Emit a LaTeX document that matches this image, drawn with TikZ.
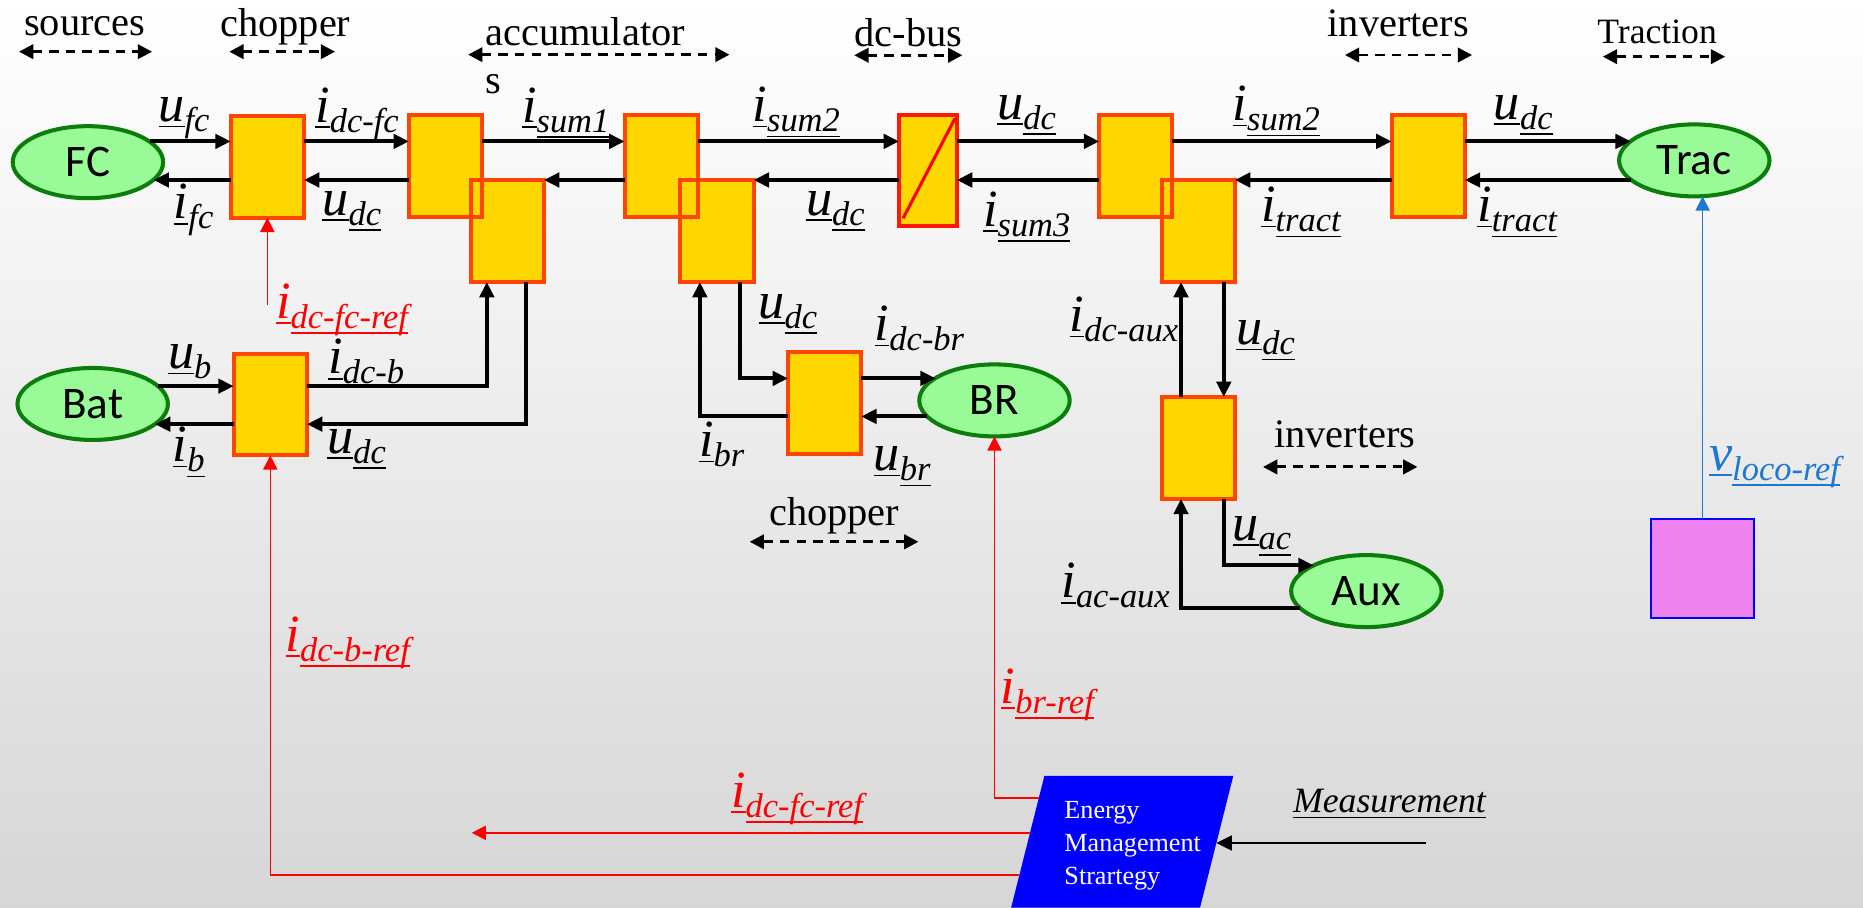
\documentclass[tikz,border=0pt]{standalone}
\usepackage{fontspec}
\setmainfont{Liberation Serif}
\newfontfamily\carl{Carlito}
\usetikzlibrary{arrows.meta,calc,shapes.geometric}

\definecolor{boxfill}{RGB}{255,215,0}
\definecolor{boxline}{RGB}{255,69,0}
\definecolor{busline}{RGB}{255,25,0}
\definecolor{ellfill}{RGB}{152,251,152}
\definecolor{ellline}{RGB}{10,125,10}
\definecolor{refred}{RGB}{255,0,0}
\definecolor{refblue}{RGB}{30,120,210}
\definecolor{speedfill}{RGB}{238,130,238}
\definecolor{emsblue}{RGB}{0,0,255}

% underlined box (rule at a fixed offset below the baseline)
\newcommand{\ulbox}[1]{\setbox0=\hbox{#1}\rlap{\raisebox{-2.4pt}{\rule{\wd0}{0.7pt}}}\box0}
% signal names: underlined letter, plain or underlined subscript
\newcommand{\sgn}[2]{{\fontsize{22}{22}\selectfont\itshape\ulbox{#1}}{\fontsize{14.5}{14.5}\selectfont\itshape\raisebox{-4.2pt}{#2}}}
\newcommand{\sgu}[2]{{\fontsize{22}{22}\selectfont\itshape\ulbox{#1}}{\fontsize{14.5}{14.5}\selectfont\itshape\raisebox{-4.2pt}{\ulbox{#2}}}}

\tikzset{
  conv/.style={draw=boxline, fill=boxfill, line width=1.7pt, minimum width=30.8pt, minimum height=42.8pt, inner sep=0pt, outer sep=0pt},
  busbox/.style={draw=busline, fill=boxfill, line width=1.7pt, minimum width=24.3pt, minimum height=46.8pt, inner sep=0pt, outer sep=0pt},
  load/.style={ellipse, draw=ellline, fill=ellfill, line width=1.7pt, minimum width=63.3pt, minimum height=30.3pt, inner sep=1pt, outer sep=0pt, font=\carl\fontsize{19}{19}\selectfont},
  flow/.style={line width=1.7pt, -{Triangle[length=6.5pt,width=6pt]}},
  refline/.style={draw=refred, line width=0.6pt, -{Triangle[length=6pt,width=6pt]}},
  speedline/.style={draw=refblue, line width=0.6pt, -{Triangle[length=6pt,width=6pt]}},
  measline/.style={line width=0.7pt, -{Triangle[length=6.5pt,width=6.3pt]}},
  span/.style={line width=1.25pt, dash pattern=on 4pt off 3pt, {Triangle[length=6pt,width=6pt]}-{Triangle[length=6pt,width=6pt]}},
  sig/.style={inner sep=0pt, anchor=west},
  head/.style={inner sep=0pt, anchor=base west, font=\fontsize{17}{17}\selectfont},
}

\begin{document}
\begin{tikzpicture}[x=0.5pt,y=-0.5pt]
\useasboundingbox (0,0) rectangle (1568,764);
\shade[top color=white, bottom color=black!16] (0,0) rectangle (1568,764);

% ---- section headings with span arrows
\node[head] (hs) at (20,29.5) {sources};
\node[head] (hc) at (185,31) {chopper};
\node[head] (ha) at (408,38) {accumulator};
\node[head] (has) at (408,78.5) {s};
\node[head] (hd) at (719,39) {dc-bus};
\node[head] (hi) at (1117,31) {inverters};
\node[head,font=\fontsize{15}{15}\selectfont] (ht) at (1344,36.5) {Traction};
\node[head] (hc2) at (647,442) {chopper};
\node[head] (hi2) at (1072,377) {inverters};

\coordinate (s1a) at (16,43.5);   \coordinate (s1b) at (128,43.5);
\coordinate (s2a) at (193,43.5);  \coordinate (s2b) at (282,43.5);
\coordinate (s3a) at (394,46);    \coordinate (s3b) at (614,46);
\coordinate (s4a) at (719,46.5);  \coordinate (s4b) at (810,46.5);
\coordinate (s5a) at (1132,46.3); \coordinate (s5b) at (1239,46.3);
\coordinate (s6a) at (1349,47.7); \coordinate (s6b) at (1452,47.7);
\coordinate (s7a) at (631,456);   \coordinate (s7b) at (773,456);
\coordinate (s8a) at (1063,393);  \coordinate (s8b) at (1193,393);
\foreach \s in {1,...,8} \draw[span] (s\s a) -- (s\s b);

% ---- sources and loads
\node[load] (FC) at (74,136.5) {FC};
\node[load] (Bat) at (78,340) {Bat};
\node[load] (BR) at (837,337) {BR};
\node[load] (Aux) at (1150,497.5) {Aux};
\node[load] (Trac) at (1426,135) {Trac};

% ---- converters
\node[conv] (C1) at (225,140.5) {};
\node[conv] (A1) at (375,139.5) {};
\node[conv] (A2) at (427,194.5) {};
\draw[boxline, line width=1.7pt] (A1.south west) rectangle (A1.north east);
\node[conv] (A3) at (556.5,139.5) {};
\node[conv] (A4) at (603.5,194.5) {};
\draw[boxline, line width=1.7pt] (A3.south west) rectangle (A3.north east);
\node[busbox] (DC) at (781,143.5) {};
\draw[refred, line width=1.3pt] ($(DC.south west)!0.07!(DC.north east)$) -- ($(DC.south west)!0.97!(DC.north east)$);
\node[conv] (B1) at (956,139.5) {};
\node[conv] (B2) at (1008.5,194.5) {};
\draw[boxline, line width=1.7pt] (B1.south west) rectangle (B1.north east);
\node[conv] (T) at (1202,139.5) {};
\node[conv] (CB) at (227.5,340.5) {};
\node[conv] (CBR) at (694,339) {};
\node[conv] (AI) at (1009,377) {};
\node[draw=emsblue, fill=speedfill, line width=0.9pt, minimum width=43.1pt, minimum height=41.6pt, inner sep=0pt, outer sep=0pt] (speed) at (1433,478.5) {};

% ---- power flow connectors
\coordinate (up) at (0,119);
\coordinate (lo) at (0,151.5);
\coordinate (bup) at (0,325);
\coordinate (blo) at (0,357);
\coordinate (rup) at (0,318.5);
\coordinate (rlo) at (0,350.5);
\coordinate (xl) at (994,0);
\coordinate (xr) at (1030,0);

\draw[flow] (FC.18.7 |- up) -- (C1.west |- up);
\draw[flow] (C1.east |- up) -- (A1.west |- up);
\draw[flow] (A1.east |- up) -- (A3.west |- up);
\draw[flow] (A3.east |- up) -- (DC.west |- up);
\draw[flow] (DC.east |- up) -- (B1.west |- up);
\draw[flow] (B1.east |- up) -- (T.west |- up);
\draw[flow] (T.east |- up) -- (Trac.163.4 |- up);

\draw[flow] (C1.west |- lo) -- (FC.-15.3 |- lo);
\draw[flow] (A1.west |- lo) -- (C1.east |- lo);
\draw[flow] (A3.west |- lo) -- (A2.east |- lo);
\draw[flow] (DC.west |- lo) -- (A4.east |- lo);
\draw[flow] (B1.west |- lo) -- (DC.east |- lo);
\draw[flow] (T.west |- lo) -- (B2.east |- lo);
\draw[flow] (Trac.197.3 |- lo) -- (T.east |- lo);

\draw[flow] (Bat.15.3 |- bup) -- (CB.west |- bup);
\draw[flow] (CB.west |- blo) -- (Bat.-18 |- blo);
\draw[flow] (CB.east |- bup) -| ($(A2.south west)!0.22!(A2.south east)$);
\draw[flow] ($(A2.south west)!0.75!(A2.south east)$) |- (CB.east |- blo);

\draw[flow] ($(A4.south west)!0.817!(A4.south east)$) |- (CBR.west |- rup);
\draw[flow] (CBR.west |- rlo) -| ($(A4.south west)!0.265!(A4.south east)$);
\draw[flow] (CBR.east |- rup) -- (BR.159.7 |- rup);
\draw[flow] (BR.193.4 |- rlo) -- (CBR.east |- rlo);

\draw[flow] (AI.north -| xl) -- (B2.south -| xl);
\draw[flow] (B2.south -| xr) -- (AI.north -| xr);
\draw[flow] (AI.south -| xr) |- (Aux.154.3);
\draw[flow] (Aux.194.6) -| (AI.south -| xl);

% ---- energy management strategy
\coordinate (P1) at (879,653);
\coordinate (P2) at (1038,653);
\coordinate (P3) at (1010,764);
\coordinate (P4) at (851,764);
\fill[emsblue] (P1) -- (P2) -- (P3) -- (P4) -- cycle;
\node[anchor=north west, inner sep=0pt, align=left, text=white, font=\fontsize{11}{14}\selectfont] (ems) at (895.5,674) {Energy\\Management\\Strartegy};

\coordinate (eBR) at ($(P4)!0.833!(P1)$);
\coordinate (eFC) at ($(P4)!0.568!(P1)$);
\coordinate (eB) at ($(P4)!0.248!(P1)$);
\coordinate (eM) at ($(P3)!0.491!(P2)$);
\coordinate (fcx) at (397,0);
\coordinate (mx) at (1200,0);
\coordinate (fctop) at (0,257);

\draw[refline] (eBR) -| (BR.south);
\draw[refline] (eFC) -- (eFC -| fcx);
\draw[refline] (eB) -| (CB.south);
\draw[refline] (C1.south |- fctop) -- (C1.south);
\draw[speedline] (speed.north) -- (speed.north |- Trac.south);
\draw[measline] (eM -| mx) -- (eM);
\node[anchor=base west, inner sep=0pt, font=\fontsize{15}{15}\selectfont\itshape] (meas) at (1088,684) {\ulbox{Measurement}};

% ---- signal labels
\node[sig] (l1) at (133,99.5) {\sgn{u}{fc}};
\node[sig] (l2) at (146,177) {\sgn{i}{fc}};
\node[sig] (l3) at (265,95.5) {\sgn{i}{dc-fc}};
\node[sig] (l4) at (271,177.5) {\sgu{u}{dc}};
\node[sig] (l5) at (439,95) {\sgu{i}{sum1}};
\node[sig] (l6) at (633,94.5) {\sgu{i}{sum2}};
\node[sig] (l7) at (678,177.5) {\sgu{u}{dc}};
\node[sig] (l8) at (839,97) {\sgu{u}{dc}};
\node[sig] (l9) at (827,182.5) {\sgu{i}{sum3}};
\node[sig] (l10) at (1037,93.5) {\sgu{i}{sum2}};
\node[sig] (l11) at (1061,178.5) {\sgu{i}{tract}};
\node[sig] (l12) at (1257,97) {\sgu{u}{dc}};
\node[sig] (l13) at (1243,178.5) {\sgu{i}{tract}};
\node[sig,text=refred] (l14) at (232,260.5) {\sgu{i}{dc-fc-ref}};
\node[sig] (l15) at (141,304.5) {\sgn{u}{b}};
\node[sig] (l16) at (276,304.5) {\sgn{i}{dc-b}};
\node[sig] (l17) at (145,380.5) {\sgu{i}{b}};
\node[sig] (l18) at (275,378) {\sgu{u}{dc}};
\node[sig] (l19) at (638,264.5) {\sgu{u}{dc}};
\node[sig] (l20) at (736,276.5) {\sgn{i}{dc-br}};
\node[sig] (l21) at (588,374) {\sgn{i}{br}};
\node[sig] (l22) at (735,392.5) {\sgu{u}{br}};
\node[sig] (l23) at (900,269) {\sgn{i}{dc-aux}};
\node[sig] (l24) at (1040,286.5) {\sgu{u}{dc}};
\node[sig] (l25) at (1037,451) {\sgu{u}{ac}};
\node[sig] (l26) at (893,493) {\sgn{i}{ac-aux}};
\node[sig,text=refblue] (l27) at (1438,393) {\sgu{v}{loco-ref}};
\node[sig,text=refred] (l28) at (240,541) {\sgu{i}{dc-b-ref}};
\node[sig,text=refred] (l29) at (615,672) {\sgu{i}{dc-fc-ref}};
\node[sig,text=refred] (l30) at (842,584.5) {\sgu{i}{br-ref}};
\end{tikzpicture}
\end{document}
